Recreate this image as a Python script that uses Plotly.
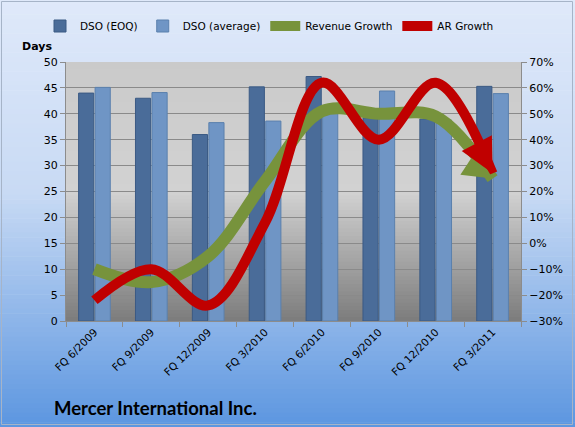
import math
import plotly.graph_objects as go

categories = ["FQ 6/2009", "FQ 9/2009", "FQ 12/2009", "FQ 3/2010",
              "FQ 6/2010", "FQ 9/2010", "FQ 12/2010", "FQ 3/2011"]
dso_eoq = [44.0, 43.0, 36.0, 45.2, 47.2, 39.2, 39.0, 45.3]
dso_avg = [45.1, 44.1, 38.3, 38.6, 40.2, 44.4, 38.8, 43.9]
revenue_growth = [-10, -15, -5, 24, 51, 50, 49, 25]
ar_growth = [-22, -10, -24, 8, 62, 40, 62, 27]

W, H = 575, 427
ML, MR, MT, MB = 66, 54, 62, 106
PW, PH = W - ML - MR, H - MT - MB

xs = list(range(len(categories)))


def lerp(c1, c2, t):
    return tuple(round(a + (b - a) * t) for a, b in zip(c1, c2))


def hexc(c):
    return "#%02x%02x%02x" % c


def px2paper_x(px):
    return (px - ML) / PW


def px2paper_y(py):
    return (H - MB - py) / PH


shapes = []
# figure background gradient
N = 90
top_c, mid_c, bot_c = (223, 233, 250), (200, 218, 244), (92, 150, 224)
for i in range(N):
    t0 = i / N
    t1 = (i + 1) / N
    tm = (t0 + t1) / 2
    if tm < 0.45:
        c = lerp(top_c, mid_c, tm / 0.45)
    else:
        c = lerp(mid_c, bot_c, (tm - 0.45) / 0.55)
    shapes.append(dict(type="rect", xref="paper", yref="paper",
                       x0=px2paper_x(0), x1=px2paper_x(W),
                       y0=px2paper_y(t0 * H), y1=px2paper_y(t1 * H + 0.6),
                       fillcolor=hexc(c), line=dict(width=0), layer="below"))
# plot area gradient
M = 70
p_top, p_mid, p_bot = (202, 202, 202), (210, 210, 210), (124, 124, 124)
for i in range(M):
    t0 = i / M
    t1 = (i + 1) / M
    tm = (t0 + t1) / 2
    if tm < 0.5:
        c = lerp(p_top, p_mid, tm / 0.5)
    else:
        c = lerp(p_mid, p_bot, (tm - 0.5) / 0.5)
    shapes.append(dict(type="rect", xref="paper", yref="paper",
                       x0=0, x1=1, y0=1 - t0, y1=1 - t1 - 0.003,
                       fillcolor=hexc(c), line=dict(width=0), layer="below"))
# outer border
shapes.append(dict(type="rect", xref="paper", yref="paper",
                   x0=px2paper_x(1.5), x1=px2paper_x(W - 2.5),
                   y0=px2paper_y(1.5), y1=px2paper_y(H - 2.5),
                   line=dict(color="#a6b4c8", width=1), fillcolor="rgba(0,0,0,0)",
                   layer="above"))

fig = go.Figure()
fig.add_trace(go.Bar(x=xs, y=dso_eoq, name="DSO (EOQ)",
                     marker=dict(color="#4a6c99", line=dict(color="#3b5a84", width=1))))
fig.add_trace(go.Bar(x=xs, y=dso_avg, name="DSO (average)",
                     marker=dict(color="#6f95c5", line=dict(color="#5b80ad", width=1))))

fig.add_trace(go.Scatter(x=xs, y=revenue_growth, name="Revenue Growth", yaxis="y2",
                         mode="lines", line=dict(color="#77933c", width=12, shape="spline", smoothing=1.0)))
fig.add_trace(go.Scatter(x=xs, y=ar_growth, name="AR Growth", yaxis="y2",
                         mode="lines", line=dict(color="#c00000", width=10, shape="spline", smoothing=1.0)))

# arrow heads (annotations) at the last point of each growth series
px_per_cat = PW / len(categories)
px_per_pct = PH / 100.0


def arrow_ann(series, color, scale, flatten):
    dxp = px_per_cat
    dyp = (series[-2] - series[-1]) * px_per_pct * flatten
    n = math.hypot(dxp, dyp)
    L = 16
    return dict(x=xs[-1], y=series[-1], xref="x", yref="y2", text="",
                showarrow=True, arrowhead=2, arrowsize=scale / 3.0, arrowwidth=3,
                arrowcolor=color, standoff=0, axref="pixel", ayref="pixel",
                ax=-dxp / n * L, ay=-dyp / n * L)


font_main = "DejaVu Sans"

fig.update_layout(
    width=W, height=H,
    margin=dict(l=ML, r=MR, t=MT, b=MB, pad=0),
    paper_bgcolor="rgba(0,0,0,0)", plot_bgcolor="rgba(0,0,0,0)",
    barmode="group", bargap=0.42, bargroupgap=0.08,
    font=dict(family=font_main, size=11, color="#000000"),
    shapes=shapes,
    showlegend=True,
    legend=dict(orientation="h", x=px2paper_x(40), y=px2paper_y(26), yanchor="middle",
                xanchor="left", font=dict(family=font_main, size=10.5),
                bgcolor="rgba(0,0,0,0)", itemwidth=30, traceorder="normal"),
    xaxis=dict(range=[-0.5, 7.5], tickmode="array", tickvals=xs, ticktext=categories,
               tickangle=-45, ticks="", showgrid=False, zeroline=False,
               showline=True, linecolor="#8c8c8c", linewidth=1,
               tickfont=dict(family=font_main, size=10.5),
               minor=dict(tickmode="linear", tick0=-0.5, dtick=1, ticks="outside",
                          ticklen=5, tickcolor="#8c8c8c", showgrid=False)),
    yaxis=dict(range=[0, 50], dtick=5, showgrid=True, gridcolor="#8a8a8a", gridwidth=1,
               zeroline=False, showline=True, linecolor="#8c8c8c", ticks="outside",
               ticklen=5, tickcolor="#8c8c8c", tickfont=dict(family=font_main, size=11)),
    yaxis2=dict(range=[-30, 70], dtick=10, overlaying="y", side="right", showgrid=False,
                zeroline=False, showline=True, linecolor="#8c8c8c", ticks="outside",
                ticklen=5, tickcolor="#8c8c8c", ticksuffix="%",
                tickfont=dict(family=font_main, size=11)),
    annotations=[
        arrow_ann(revenue_growth, "#77933c", 5.8, 0.6),
        arrow_ann(ar_growth, "#c00000", 6.8, 1.2),
        dict(text="<b>Days</b>", xref="paper", yref="paper", x=px2paper_x(37),
             y=px2paper_y(47), showarrow=False, xanchor="center", yanchor="middle",
             font=dict(family=font_main, size=11)),
        dict(text="<b>Mercer International Inc.</b>", xref="paper", yref="paper",
             x=px2paper_x(52), y=px2paper_y(408), showarrow=False, xanchor="left",
             yanchor="middle", font=dict(family="Lato", size=18.5)),
    ],
)

fig.write_html("out.html")
